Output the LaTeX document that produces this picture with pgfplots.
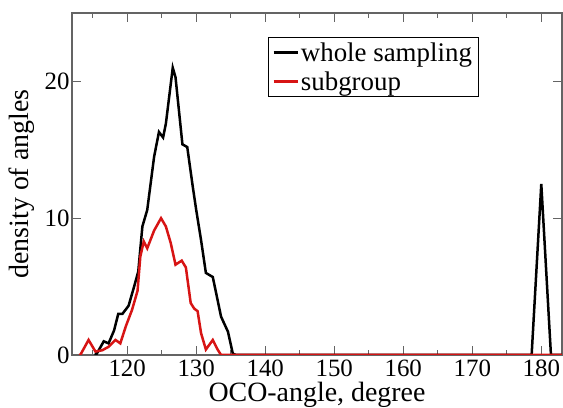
\documentclass[border=0pt]{standalone}
\usepackage{fontspec}
\setmainfont{Liberation Serif}
\usepackage{pgfplots}
\pgfplotsset{compat=1.18}
\definecolor{myred}{RGB}{215,20,20}
\definecolor{axgray}{RGB}{100,100,100}
\begin{document}
\begin{tikzpicture}
\begin{axis}[
  at={(0,0)}, anchor=south west,
  scale only axis,
  width=490bp, height=342bp,
  xmin=112, xmax=183, ymin=0, ymax=25,
  xtick={120,130,...,180},
  minor xtick={115,125,...,175},
  ytick={0,10,20},
  major tick length=9bp, minor tick length=5bp,
  tick align=inside,
  axis line style={axgray, line width=1.2bp},
  every tick/.style={axgray, line width=1bp},
  /pgf/number format/assume math mode=true,
  ticklabel style={font=\fontsize{25}{25}\selectfont, text=black},
  xticklabel style={yshift=-1bp},
  yticklabel style={xshift=1bp},
  xlabel={OCO-angle, degree},
  ylabel={density of angles},
  xlabel style={at={(axis description cs:0.5,-0.135)}, anchor=base, font=\fontsize{28}{28}\selectfont},
  ylabel style={at={(axis description cs:-0.088,0.5)}, anchor=base, font=\fontsize{28}{28}\selectfont},
  legend cell align=left,
  legend style={at={(axis description cs:0.4,0.93)}, anchor=north west,
    font=\fontsize{27}{30}\selectfont, draw=black, line width=0.8bp,
    inner xsep=4bp, inner ysep=4bp, /tikz/row sep=7bp,
    nodes={inner ysep=1bp}},
  legend image code/.code={\draw[#1, line width=2.5bp] (0bp,0bp) -- (24bp,0bp);},
]
\addplot[black, line width=2.5bp] coordinates {
(115.3,0) (115.6,0.1) (116.6,1.0) (117.3,0.85) (118.1,1.8) (118.7,3.0) (119.3,3.0)
(120.2,3.6) (121.0,5.0) (121.6,6.1) (122.2,9.4) (122.9,10.6) (123.9,14.5)
(124.6,16.3) (125.2,15.9) (125.6,16.9) (126.6,21.0) (127.0,20.3) (128.0,15.4)
(128.7,15.2) (129.5,12.3) (130.0,10.6) (130.7,8.4) (131.4,6.0) (132.4,5.7)
(133.6,2.8) (134.6,1.7) (135.3,0.1) (135.8,0) (178.6,0) (180.0,12.5) (181.4,0) (183,0)
};
\addlegendentry{whole sampling}
\addplot[myred, line width=2.5bp] coordinates {
(113.0,0) (113.2,0) (114.4,1.1) (115.4,0.25) (116.4,0.35) (117.3,0.6) (118.3,1.1)
(119.0,0.85) (119.8,2.1) (120.7,3.3) (121.5,4.7) (121.9,7.2) (122.4,8.3) (122.9,7.8)
(123.9,9.1) (124.9,10.0) (125.6,9.4) (126.3,8.2) (127.0,6.6) (127.9,6.9) (128.5,6.4)
(129.2,3.8) (129.7,3.4) (130.2,3.2) (130.7,1.6) (131.4,0.4) (132.4,1.1) (133.1,0.4)
(133.6,0) (183,0)
};
\addlegendentry{subgroup}
\end{axis}
\pgfresetboundingbox
\useasboundingbox (-72bp,-53bp) rectangle (491bp,355bp);
\end{tikzpicture}
\end{document}
